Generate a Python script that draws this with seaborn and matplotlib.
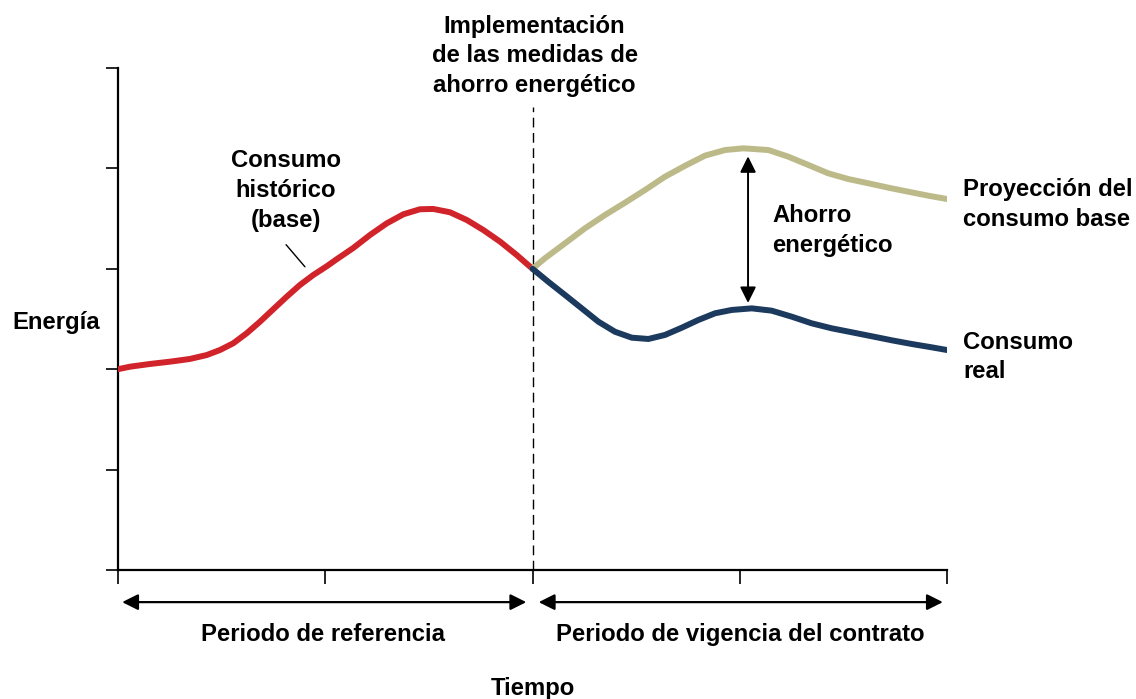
import pandas as pd
import numpy as np
import matplotlib
matplotlib.use('Agg')
import matplotlib.pyplot as plt
import seaborn as sns

# curvas (tiempo 0-4, energía 0-5)
hist_x = [0.0, 0.058, 0.154, 0.251, 0.347, 0.428, 0.492, 0.556, 0.621, 0.685,
          0.749, 0.814, 0.878, 0.942, 1.007, 1.055, 1.135, 1.216, 1.297, 1.377,
          1.457, 1.521, 1.602, 1.683, 1.763, 1.844, 1.924, 2.0]
hist_y = [2.00, 2.025, 2.052, 2.075, 2.102, 2.141, 2.191, 2.258, 2.358, 2.473,
          2.597, 2.722, 2.839, 2.938, 3.025, 3.095, 3.207, 3.337, 3.453, 3.543,
          3.593, 3.596, 3.563, 3.486, 3.386, 3.270, 3.137, 3.00]

proy_x = [2.0, 2.060, 2.157, 2.253, 2.350, 2.446, 2.543, 2.639, 2.736, 2.832,
          2.929, 3.017, 3.138, 3.234, 3.331, 3.427, 3.524, 3.620, 3.717, 3.813,
          3.910, 4.0]
proy_y = [3.00, 3.105, 3.254, 3.403, 3.536, 3.658, 3.785, 3.917, 4.026, 4.127,
          4.183, 4.200, 4.183, 4.117, 4.034, 3.951, 3.894, 3.852, 3.808, 3.768,
          3.728, 3.695]

real_x = [2.0, 2.076, 2.157, 2.237, 2.318, 2.398, 2.479, 2.559, 2.639, 2.720,
          2.800, 2.881, 2.961, 3.058, 3.154, 3.251, 3.347, 3.444, 3.540, 3.637,
          3.733, 3.830, 3.926, 4.0]
real_y = [3.00, 2.871, 2.739, 2.607, 2.473, 2.373, 2.314, 2.301, 2.341, 2.413,
          2.490, 2.557, 2.590, 2.606, 2.583, 2.523, 2.457, 2.407, 2.368, 2.328,
          2.288, 2.251, 2.218, 2.191]

series_names = ['Consumo histórico', 'Proyección del consumo base', 'Consumo real']
series_colors = ['#D0232A', '#BDBA8A', '#1B3A5E']

df = pd.concat([
    pd.DataFrame({'Tiempo': hist_x, 'Energía': hist_y, 'serie': series_names[0]}),
    pd.DataFrame({'Tiempo': proy_x, 'Energía': proy_y, 'serie': series_names[1]}),
    pd.DataFrame({'Tiempo': real_x, 'Energía': real_y, 'serie': series_names[2]}),
], ignore_index=True)

sns.set_style('white')
plt.rcParams['font.family'] = ['Liberation Sans', 'DejaVu Sans']
plt.rcParams['font.weight'] = 'bold'

fig = plt.figure(figsize=(11.36, 6.99), dpi=100)
ax = fig.add_axes([118 / 1136, 1 - 570 / 699, (947 - 118) / 1136, (570 - 68) / 699])

# línea de implementación
ax.plot([2, 2], [0, 4.61], color='black', lw=1, dashes=(7, 4), zorder=1)

sns.lineplot(data=df, x='Tiempo', y='Energía', hue='serie', palette=series_colors,
             hue_order=series_names, sort=False, estimator=None, lw=4.3,
             legend=False, ax=ax, zorder=3)
for ln in ax.get_lines():
    ln.set_solid_joinstyle('round')
    ln.set_solid_capstyle('round')

ax.set_xlim(0, 4)
ax.set_ylim(0, 5)
ax.set_xticks([0, 1, 2, 3, 4])
ax.set_yticks([0, 1, 2, 3, 4, 5])
ax.set_xticklabels([])
ax.set_yticklabels([])
ax.set_xlabel('')
ax.set_ylabel('')
sns.despine(ax=ax)
for s in ['left', 'bottom']:
    ax.spines[s].set_linewidth(1.6)
    ax.spines[s].set_color('black')
ax.tick_params(axis='y', direction='out', length=9, width=1.2, color='black', left=True)
ax.tick_params(axis='x', direction='out', length=10, width=1.2, color='black', bottom=True)

# flecha del ahorro
ax.annotate('', xy=(3.04, 4.12), xytext=(3.04, 2.66),
            arrowprops=dict(arrowstyle='<|-|>', color='black', lw=1.4, mutation_scale=24,
                            shrinkA=0, shrinkB=0))

# flechas de periodos
for x0, x1 in [(0.02, 1.97), (2.03, 3.98)]:
    ax.annotate('', xy=(x1, -0.32), xytext=(x0, -0.32), annotation_clip=False,
                arrowprops=dict(arrowstyle='<|-|>', color='black', lw=1.6, mutation_scale=24,
                                shrinkA=0, shrinkB=0))

# línea de la etiqueta histórica
ax.plot([0.811, 0.902], [3.24, 3.02], color='black', lw=1)

fs = 17.2
kw = dict(fontsize=fs, fontweight='bold', color='black', clip_on=False, linespacing=1.37)
ax.text(2.01, 5.12, 'Implementación\nde las medidas de\nahorro energético',
        ha='center', va='center', multialignment='center', **kw)
ax.text(0.81, 3.78, 'Consumo\nhistórico\n(base)', ha='center', va='center',
        multialignment='center', **kw)
ax.text(-0.51, 2.47, 'Energía', ha='left', va='center', **kw)
ax.text(3.156, 3.38, 'Ahorro\nenergético', ha='left', va='center', multialignment='left', **kw)
ax.text(4.077, 3.64, 'Proyección del\nconsumo base', ha='left', va='center',
        multialignment='left', **kw)
ax.text(4.077, 2.12, 'Consumo\nreal', ha='left', va='center', multialignment='left', **kw)
ax.text(0.99, -0.64, 'Periodo de referencia', ha='center', va='center', **kw)
ax.text(3.0, -0.64, 'Periodo de vigencia del contrato', ha='center', va='center', **kw)
ax.text(2.0, -1.18, 'Tiempo', ha='center', va='center', **kw)

fig.savefig('out.png', dpi=100)
